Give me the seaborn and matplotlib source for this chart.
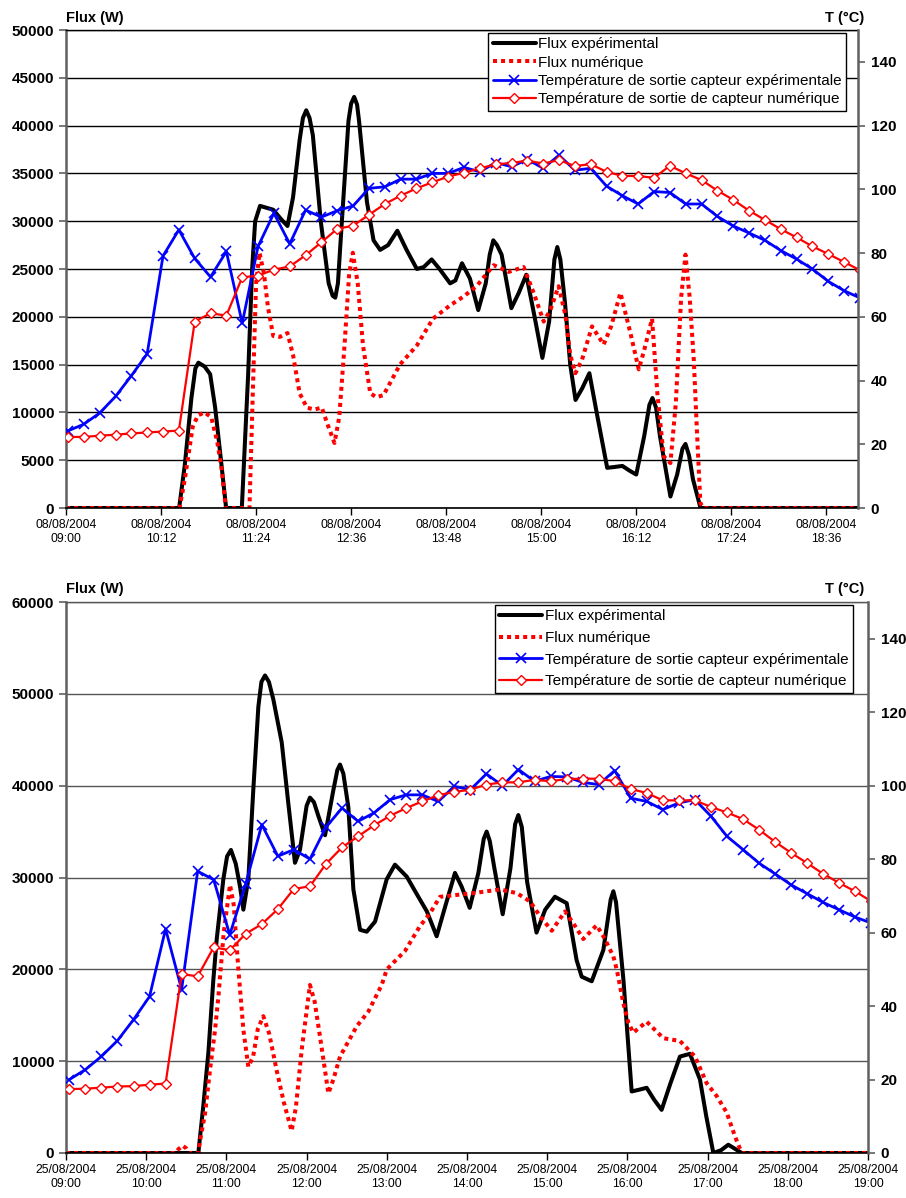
import numpy as np
import pandas as pd
import matplotlib
matplotlib.use("Agg")
import matplotlib.pyplot as plt
import seaborn as sns

sns.set_style("white")
plt.rcParams['font.family'] = ['Liberation Sans', 'DejaVu Sans']
for k in ['text.color', 'axes.labelcolor', 'xtick.color', 'ytick.color']:
    plt.rcParams[k] = 'black'

labels = ['Flux expérimental', 'Flux numérique',
          'Température de sortie capteur expérimentale',
          'Température de sortie de capteur numérique']

# ---------------- 08/08/2004 ----------------
start_1 = pd.Timestamp('2004-08-08 09:00')
temp_t0_1 = 1.5   # minutes after 09:00, one point every 12 min
temp_exp_1 = [24.2, 26.3, 29.8, 35.0, 41.5, 48.4, 79.1, 87.3, 78.3, 72.5, 80.5,
              58.0, 82.1, 92.5, 82.9, 93.5, 91.3, 93.3, 94.8, 100.3, 100.8,
              103.2, 103.2, 105.0, 105.0, 106.9, 105.5, 108.4, 107.1, 109.4,
              106.6, 110.7, 106.0, 106.6, 101.0, 98.0, 95.4, 99.3, 99.0, 95.4,
              95.4, 91.5, 88.5, 86.3, 84.0, 80.8, 78.1, 75.0, 71.1, 68.2, 65.9]
temp_num_1 = [22.3, 22.3, 22.7, 23.0, 23.4, 23.7, 24.0, 24.3, 58.5, 61.1, 60.4,
              72.4, 72.9, 74.8, 75.8, 79.3, 83.4, 87.6, 88.6, 92.0, 95.4,
              98.0, 100.3, 102.2, 104.0, 105.2, 106.6, 107.8, 108.3, 109.0,
              108.1, 109.2, 107.3, 107.9, 105.5, 104.2, 104.2, 103.6, 107.4, 105.0,
              102.9, 99.6, 96.7, 93.3, 90.4, 87.5, 84.9, 82.1, 79.7, 77.2, 74.6]
# (minutes after 09:00, W)
flux_exp_1 = [(0, 0), (85.7, 0), (90, 4500), (95, 11500), (98, 14600), (100.3, 15200),
              (105, 14800), (109.2, 14000), (113, 10500), (117, 5500), (121.3, 0),
              (133.2, 0), (138, 14000), (141, 25000), (143.3, 30000), (147, 31600),
              (157, 31200), (163, 30200), (167.8, 29500), (172, 32500), (177, 38500),
              (179.5, 40800), (182, 41600), (184.5, 40800), (187, 39000), (193, 30000),
              (199, 23500), (202, 22200), (204, 22000), (206, 23500), (209, 30000),
              (214, 40500), (216, 42300), (218.3, 43000), (220.5, 42200), (222, 40500),
              (228, 32000), (233, 28000), (238, 27000), (244, 27500), (251, 29000),
              (258, 27000), (265.8, 25000), (271, 25200), (277, 26000), (283, 25000),
              (291, 23500), (295, 23800), (300, 25600), (306, 24000), (312.3, 20700),
              (318, 23500), (321, 26500), (323.7, 28000), (326.5, 27500), (330, 26500),
              (337.4, 20900), (343, 22500), (348.7, 24400), (355, 20000), (360.9, 15700),
              (366, 19500), (370, 26000), (372.2, 27300), (374.5, 26000), (378, 21500),
              (382, 15000), (386, 11300), (391, 12500), (396.5, 14100), (402, 10000),
              (410, 4200), (416, 4300), (421.5, 4400), (427, 3900), (432, 3500),
              (438, 7500), (442, 10800), (444.3, 11500), (447, 10500), (450, 7500),
              (457.9, 1200), (463, 3500), (467, 6200), (469.3, 6700), (472, 5500),
              (475, 3000), (480.7, 0), (600, 0)]
flux_num_1 = [(0, 0), (86, 0), (90, 3000), (96, 8500), (100, 9700), (105, 10000),
              (110, 9500), (114.5, 7000), (118, 4000), (121, 0), (139, 0),
              (141.5, 12000), (144, 23500), (146.6, 26700), (150, 24500), (153, 21000),
              (157, 18000), (162, 17900), (167.8, 18300), (172, 16000), (177, 12000),
              (182.5, 10500), (188, 10300), (193.8, 10500), (198, 8800), (203.4, 6800),
              (207, 9500), (211, 17000), (214.5, 24500), (217.3, 26700), (221, 23500),
              (225, 17000), (230.5, 12000), (235, 11600), (240.5, 11800), (253, 15000),
              (265.8, 17000), (278, 19800), (291, 21200), (301, 22100), (311, 23200),
              (324, 25400), (335.4, 24700), (346.7, 25200), (354.3, 22500),
              (361.9, 19500), (366.9, 20700), (373.2, 23200), (378.3, 20200),
              (382, 16000), (385.9, 14100), (390.9, 15500), (398.5, 19000),
              (407.3, 17100), (413, 19000), (420, 22500), (427.6, 18300),
              (433.9, 14500), (438, 16500), (444, 19800), (448, 12000), (452.8, 5400),
              (457.9, 4700), (462, 11000), (466, 22000), (469.3, 26500), (472.5, 22000),
              (475.6, 15500), (478, 8000), (480.6, 500), (483, 0), (600, 0)]

# ---------------- 25/08/2004 ----------------
start_2 = pd.Timestamp('2004-08-25 09:00')
temp_t0_2 = 2.5
temp_exp_2 = [20.0, 22.7, 26.3, 30.6, 36.3, 42.6, 61.0, 44.5, 76.7, 74.4, 59.4,
              73.3, 89.4, 80.8, 82.6, 80.0, 88.7, 93.9, 90.3, 92.6, 96.2,
              97.5, 97.5, 95.7, 99.8, 98.9, 103.2, 100.0, 104.4, 101.2,
              102.5, 102.4, 100.9, 100.3, 104.1, 96.6, 95.7, 93.5, 95.3, 96.2,
              91.7, 86.2, 82.6, 78.9, 76.0, 73.0, 70.6, 68.2, 66.2, 64.2, 62.6]
temp_num_2 = [17.4, 17.5, 17.8, 18.1, 18.2, 18.6, 18.9, 48.7, 48.1, 56.0, 55.2,
              59.7, 62.3, 66.4, 71.9, 72.6, 78.7, 83.2, 86.2, 89.2, 91.8,
              93.9, 95.7, 97.4, 98.3, 98.9, 100.3, 100.9, 100.9, 101.6,
              101.2, 101.8, 101.9, 101.9, 101.2, 99.1, 98.0, 96.0, 96.0, 96.0,
              94.2, 92.7, 90.9, 88.0, 84.7, 81.7, 78.9, 76.0, 73.5, 71.2, 68.5]
flux_exp_2 = [(0, 0), (99, 0), (102.7, 5100), (106.5, 10900), (110.2, 18800),
              (112.7, 23200), (117.7, 29800), (120.5, 32300), (123.4, 33000), (127, 31500),
              (130.2, 29000), (132.7, 26500), (136.4, 29800), (140.1, 39500),
              (143.9, 48600), (146.2, 51300), (148.9, 52000), (151.8, 51300),
              (155.1, 49400), (161.4, 44700), (166.3, 38100), (171.3, 31600),
              (175, 33000), (180, 37800), (182.5, 38700), (185.5, 38200), (188.8, 36700),
              (193.8, 34600), (200, 39500), (203, 41700), (205, 42300), (207.5, 41300),
              (211.2, 37700), (215, 28700), (220, 24300), (225, 24100), (231.2, 25200),
              (239.9, 29800), (246.1, 31400), (254.9, 30100), (262, 28300),
              (270, 26300), (277.3, 23600), (284, 27000), (291, 30500), (296, 29000),
              (302, 26700), (308.5, 30500), (312.5, 34200), (314.7, 35000), (317, 34000),
              (320.5, 31000), (326.7, 26000), (332.5, 31000), (336, 35800),
              (338.4, 36800), (341, 35500), (345, 29500), (352, 24000),
              (358.5, 26500), (365.8, 27900), (374.6, 27200), (382, 21000),
              (385.8, 19200), (393.3, 18700), (402, 22100), (407.5, 27600),
              (409.5, 28500), (411.5, 27300), (417, 18900),
              (423.2, 6700), (429, 6900), (434.4, 7100), (440, 5800), (445.6, 4700),
              (452, 7500), (459.3, 10500), (466.8, 10800), (474.3, 8000), (479, 4000),
              (484.3, 0), (490, 300), (495.5, 900), (500, 500), (505.5, 0), (600, 0)]
flux_num_2 = [(0, 0), (82, 0), (84, 400), (87.3, 800), (90, 500), (92, 0), (99, 0),
              (100, 1100), (104, 4300), (107.7, 9000), (111.5, 13400), (114, 17000),
              (118, 24000), (122.7, 29200), (125.5, 27000), (128.8, 20300),
              (132.7, 13400), (136.4, 9400), (140, 10500), (143.5, 13500),
              (147.6, 14900), (152, 13000), (157.6, 9000), (163, 5500), (168.8, 2400),
              (172, 5000), (176.3, 11200), (182.5, 18300), (186, 16500), (190, 12700),
              (196.3, 6500), (200, 8000), (205, 10500), (217.5, 13800), (226.2, 15400),
              (236.2, 18300), (240, 20000), (253.6, 22000), (264.8, 24700),
              (272.3, 26100), (279.8, 27900), (292.3, 28100), (305, 28300),
              (324.7, 28700), (337.2, 28300), (347.1, 27400), (354.6, 25800),
              (363.4, 24200), (373.3, 26300), (379.6, 25000), (387, 23300), (397, 24800),
              (403.2, 23300), (409.5, 21400), (412, 20000), (417, 16300), (420.7, 14200),
              (424.4, 13100), (434.4, 14300), (446.9, 12500), (459.3, 12200),
              (470.6, 10500), (479.3, 7600), (486.8, 6200), (494.3, 4400),
              (500.5, 1800), (505.5, 0), (600, 0)]

W, H = 906, 1198
fig = plt.figure(figsize=(W / 100, H / 100), dpi=100)


def panel(rect, start, t0, temp_exp, temp_num, flux_exp, flux_num,
          ymax, ystep, tick_min, n_ticks, grid_color, leg_anchor, leg_spacing, label_y):
    ax = fig.add_axes(rect)
    ax2 = ax.twinx()

    fe = pd.DataFrame(flux_exp, columns=['t', 'v'])
    fn = pd.DataFrame(flux_num, columns=['t', 'v'])
    tt = t0 + 12 * np.arange(len(temp_exp))

    sns.lineplot(x=fe['t'], y=fe['v'], ax=ax, color='black', lw=2.9,
                 sort=False, label=labels[0], legend=False)
    sns.lineplot(x=fn['t'], y=fn['v'], ax=ax, color='red', lw=2.9,
                 ls=(0, (1, 1)), sort=False, label=labels[1], legend=False)
    sns.lineplot(x=tt, y=temp_exp, ax=ax2, color='blue', lw=2.0, marker='x',
                 markersize=7, mew=1.2, mec='blue', sort=False,
                 label=labels[2], legend=False)
    sns.lineplot(x=tt, y=temp_num, ax=ax2, color='red', lw=1.6, marker='D',
                 markersize=5, mew=1.0, mec='red', mfc='white', sort=False,
                 label=labels[3], legend=False)

    ax.set_xlim(0, 600)
    ax.set_ylim(0, ymax)
    ax.set_yticks(np.arange(0, ymax + 1, ystep))
    ax2.set_ylim(0, 150)
    ax2.set_yticks(np.arange(0, 141, 20))
    ticks = np.arange(n_ticks) * tick_min
    ax.set_xticks(ticks)
    ax.set_xticklabels([(start + pd.Timedelta(minutes=int(m))).strftime('%d/%m/%Y\n%H:%M')
                        for m in ticks], fontsize=8.8)
    ax.set_xlabel('')
    ax.set_ylabel('')
    ax2.set_ylabel('')
    ax.tick_params(axis='y', left=True, direction='out', length=5, width=1.2,
                   color='#606060', pad=3.5, labelsize=11)
    ax.tick_params(axis='x', bottom=True, direction='out', length=5, width=1.0,
                   color='black', pad=3)
    ax2.tick_params(axis='y', right=True, direction='out', length=5, width=1.2,
                    color='#606060', pad=4, labelsize=11)
    plt.setp(ax.get_yticklabels(), fontweight='bold')
    plt.setp(ax2.get_yticklabels(), fontweight='bold')

    ax.grid(axis='y', color=grid_color, lw=1.0)
    ax.grid(axis='x', visible=False)
    ax2.grid(False)
    for s in ['left', 'top', 'bottom']:
        ax2.spines[s].set_visible(False)
    ax.spines['right'].set_visible(False)
    ax.spines['left'].set_color('#606060')
    ax.spines['left'].set_linewidth(1.8)
    ax2.spines['right'].set_color('#606060')
    ax2.spines['right'].set_linewidth(1.8)
    ax.spines['bottom'].set_color('black')
    ax.spines['bottom'].set_linewidth(1.2)
    ax.spines['top'].set_color(grid_color)
    ax.spines['top'].set_linewidth(1.0)

    handles = ax.get_lines()[:2] + ax2.get_lines()[:2]
    leg = ax2.legend(handles, labels, loc='upper right', bbox_to_anchor=leg_anchor,
                     borderaxespad=0, frameon=True, fancybox=False, framealpha=1,
                     edgecolor='black', fontsize=11, handlelength=2.8,
                     handletextpad=0.15, labelspacing=leg_spacing, borderpad=0.3)
    leg.get_frame().set_linewidth(1.0)

    fig.text(66 / W, 1 - label_y / H, 'Flux (W)', fontsize=10.5, fontweight='bold',
             ha='left', va='center')
    fig.text(864 / W, 1 - label_y / H, 'T (°C)', fontsize=10.5, fontweight='bold',
             ha='right', va='center')
    return ax, ax2


panel([66 / W, 1 - 508 / H, 792 / W, 478 / H], start_1, temp_t0_1,
      temp_exp_1, temp_num_1, flux_exp_1, flux_num_1,
      50000, 5000, 72, 9, 'black', (0.985, 0.994), 0.28, 18)
panel([66 / W, 1 - 1153 / H, 802 / W, 551 / H], start_2, temp_t0_2,
      temp_exp_2, temp_num_2, flux_exp_2, flux_num_2,
      60000, 10000, 60, 11, '#555555', (0.981, 0.995), 0.5, 589)

fig.savefig('out.png', dpi=100)
